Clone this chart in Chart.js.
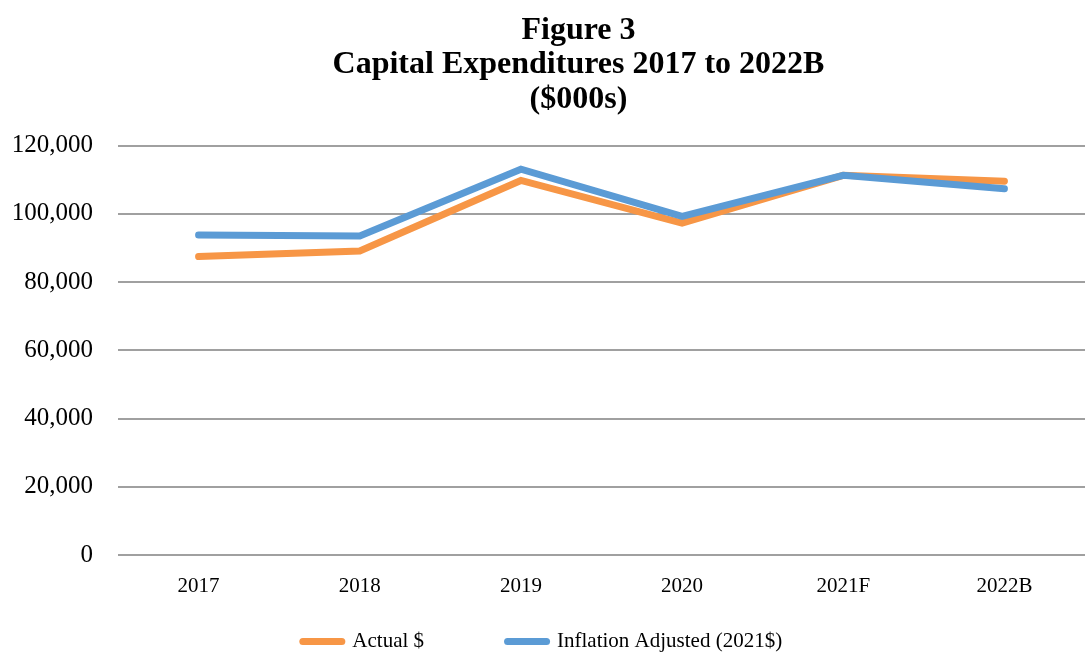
<!DOCTYPE html>
<html>
<head>
<meta charset="utf-8">
<script src="https://cdn.jsdelivr.net/npm/chart.js@4"></script>
<style>
    html, body { margin: 0; padding: 0; background: #fff; }
    #chart { width: 1085px; height: 657px; }
</style>
</head>
<body>
<div id="chart"><canvas id="myChart" width="1085" height="657"></canvas></div>
<script>
const labels = ['2017', '2018', '2019', '2020', '2021F', '2022B'];
const actual = [87500, 89100, 109800, 97300, 111300, 109600];
const inflationAdjusted = [93800, 93500, 113100, 99300, 111300, 107400];
const yTicks = [0, 20000, 40000, 60000, 80000, 100000, 120000];
const seriesNames = ['Actual $', 'Inflation Adjusted (2021$)'];
const seriesColors = ['#f79646', '#5b9bd5'];

Chart.defaults.font.family = "'Liberation Serif', 'Times New Roman', serif";
Chart.defaults.color = '#000';

// gap between the two legend entries
const legendPad = ['              ', ''];

// the original title sits a bit right of the canvas centre
const titleShift = {
    id: 'titleShift',
    afterLayout(chart) {
        chart.titleBlock.left = 72;
    }
};

const config = {
    type: 'line',
    data: {
        labels: labels,
        datasets: [
            {
                label: seriesNames[0],
                data: actual,
                borderColor: seriesColors[0],
                backgroundColor: seriesColors[0],
                order: 1
            },
            {
                label: seriesNames[1],
                data: inflationAdjusted,
                borderColor: seriesColors[1],
                backgroundColor: seriesColors[1],
                order: 0
            }
        ]
    },
    options: {
        responsive: false,
        animation: false,
        layout: {
            padding: { left: 0, right: 0, top: 0, bottom: -5 }
        },
        elements: {
            line: {
                borderWidth: 7,
                tension: 0,
                borderCapStyle: 'round'
            },
            point: {
                radius: 0,
                hoverRadius: 0
            }
        },
        scales: {
            x: {
                offset: true,
                grid: { display: false },
                border: { display: false },
                ticks: {
                    font: { size: 21 },
                    padding: 11,
                    maxRotation: 0,
                    minRotation: 0
                },
                afterFit: axis => { axis.height = 66; }
            },
            y: {
                min: 0,
                max: 120000,
                afterBuildTicks: axis => {
                    axis.ticks = yTicks.map(v => ({ value: v }));
                },
                afterFit: axis => { axis.width = 118; },
                grid: {
                    color: '#a0a0a0',
                    lineWidth: 2,
                    drawTicks: false
                },
                border: { display: false },
                ticks: {
                    font: { size: 25 },
                    padding: 25
                }
            }
        },
        plugins: {
            title: {
                display: true,
                text: ['Figure 3', 'Capital Expenditures 2017 to 2022B', '($000s)'],
                font: { size: 32, weight: 'bold', lineHeight: 1.08 },
                color: '#000',
                padding: { top: 13, bottom: 29 }
            },
            legend: {
                position: 'bottom',
                labels: {
                    usePointStyle: true,
                    pointStyle: 'line',
                    pointStyleWidth: 39,
                    font: { size: 21 },
                    padding: 10,
                    generateLabels: chart => {
                        const items = Chart.defaults.plugins.legend.labels.generateLabels(chart);
                        items.forEach(item => {
                            const i = item.datasetIndex;
                            item.text = seriesNames[i] + legendPad[i];
                            item.strokeStyle = seriesColors[i];
                            item.fillStyle = seriesColors[i];
                            item.lineWidth = 7;
                            item.lineCap = 'round';
                            item.pointStyle = 'line';
                        });
                        return items;
                    },
                    sort: (a, b) => a.datasetIndex - b.datasetIndex
                }
            },
            tooltip: { enabled: false }
        }
    },
    plugins: [titleShift]
};

new Chart(
    document.getElementById('myChart'),
    config
);
</script>
</body>
</html>
